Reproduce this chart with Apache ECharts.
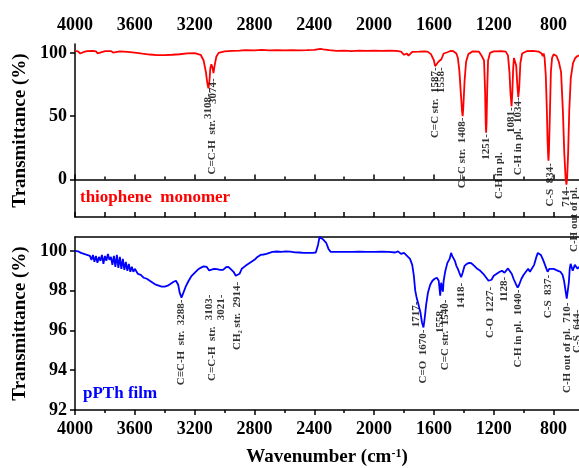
<!DOCTYPE html>
<html><head><meta charset="utf-8">
<script src="https://cdn.jsdelivr.net/npm/echarts@6/dist/echarts.min.js"></script>
<style>html,body{margin:0;padding:0;background:#fff}#c{width:579px;height:468px}</style>
</head><body><div id="c"></div>
<script>
// ---- thiophene monomer (top panel) ----
const monoWn = [4000,3980,3965,3955,3945,3920,3880,3860,3848,3838,3800,3760,3745,3735,3700,3650,3600,3550,3500,3450,3400,3350,3300,3250,3200,3160,3140,3125,3115,3108,3101,3095,3088,3080,3074,3068,3055,3040,3000,2950,2900,2860,2800,2750,2700,2650,2600,2550,2500,2450,2400,2360,2340,2300,2250,2200,2150,2100,2050,2000,1950,1900,1850,1820,1800,1790,1780,1770,1760,1745,1700,1660,1640,1620,1600,1592,1587,1580,1570,1558,1550,1535,1510,1490,1470,1450,1440,1430,1420,1412,1408,1404,1395,1385,1370,1340,1300,1290,1280,1272,1265,1258,1254,1251,1248,1244,1238,1225,1200,1150,1120,1105,1095,1088,1081,1076,1070,1065,1058,1050,1042,1036,1030,1022,1010,980,940,900,880,872,866,860,852,845,840,836,834,831,826,818,810,800,790,780,765,750,738,728,720,714,709,703,695,685,670,655,640,630];
const monoT  = [101.5,101.2,99.5,98.8,100.5,101.3,101.5,101.2,99.6,101.0,101.3,101.4,100.2,101.0,101.2,100.8,100.2,99.4,98.7,98.3,98.2,98.5,98.9,99.6,99.8,98.5,94,85,76,72,78,88,91,88,84,89,97,100,101.2,101.5,101.8,102.2,102.0,102.4,102.0,102.2,102.0,102.2,102.0,102.1,102.3,103.2,102.8,102.2,101.6,101.8,101.3,101.7,101.6,101.7,101.6,101.7,101.5,101.0,98.5,97.0,99.5,97.8,98.5,100.8,101.0,101.2,100.8,99,94,89.5,88.5,91,93,92.0,95,99.5,100.5,101.5,101.3,99.5,96,86,68,54,50,56,78,93,99,101.2,101.0,99.5,97.5,98.5,94,70,45,37,45,70,94,100,101.2,101.4,101.0,98,85,68,58,68,88,96,96,90,74,65,72,92,99.5,101.3,101.5,101.0,99.5,97.5,99.5,96,82,55,30,18,15,22,45,85,96,98.8,98.5,97.5,93,85,55,20,2,-4,2,20,55,80,92,96,97.5,98];
// ---- pPTh film (bottom panel) ----
const filmWn = [4000,3980,3960,3940,3920,3900,3890,3880,3870,3860,3850,3840,3830,3820,3810,3800,3790,3780,3770,3760,3750,3740,3730,3720,3710,3700,3690,3680,3670,3660,3650,3640,3630,3620,3610,3600,3580,3560,3540,3520,3500,3480,3460,3440,3420,3400,3380,3360,3340,3325,3310,3300,3288,3275,3260,3240,3220,3200,3180,3160,3140,3120,3110,3103,3090,3070,3050,3030,3021,3010,2990,2975,2960,2940,2925,2914,2900,2885,2860,2840,2820,2800,2780,2760,2740,2720,2700,2680,2650,2620,2590,2560,2530,2500,2470,2440,2410,2390,2375,2365,2355,2345,2335,2320,2305,2290,2250,2200,2150,2100,2050,2000,1950,1900,1860,1840,1820,1800,1780,1760,1745,1735,1725,1717,1710,1700,1690,1680,1670,1662,1652,1640,1625,1610,1595,1580,1568,1560,1558,1552,1546,1540,1535,1525,1510,1495,1485,1478,1470,1460,1450,1440,1430,1418,1408,1395,1380,1365,1350,1330,1310,1290,1270,1250,1235,1227,1215,1200,1180,1160,1145,1135,1128,1118,1105,1095,1080,1065,1050,1040,1030,1015,1000,985,970,958,945,930,915,905,895,885,870,860,850,840,837,828,815,800,785,770,755,740,730,720,712,705,698,692,686,680,672,665,658,650,640,630];
const filmT  = [100.0,99.98,99.9,99.85,99.8,99.75,99.55,99.8,99.45,99.75,99.4,99.7,99.5,99.8,99.35,99.75,99.5,99.85,99.55,99.7,99.3,99.75,99.2,99.8,99.15,99.7,99.1,99.6,99.05,99.45,99.0,99.35,98.95,99.2,98.95,99.1,98.85,98.8,98.65,98.6,98.5,98.4,98.3,98.25,98.2,98.2,98.25,98.35,98.45,98.5,98.3,97.9,97.65,97.9,98.2,98.5,98.75,98.9,99.05,99.15,99.22,99.2,99.1,99.02,99.05,99.1,99.08,99.05,98.98,99.05,99.18,99.2,99.1,98.95,98.75,98.7,98.85,99.1,99.25,99.35,99.45,99.55,99.7,99.8,99.82,99.85,99.9,99.95,99.97,99.95,99.98,99.96,99.93,99.92,99.9,99.9,99.9,99.92,100.3,100.7,100.75,100.6,100.7,100.4,100.1,99.95,99.95,99.95,99.95,99.96,99.95,99.95,99.96,99.95,99.92,99.98,99.85,99.9,99.75,99.6,99.3,98.8,98.0,97.7,97.75,97.2,96.9,96.4,96.15,96.6,97.3,97.9,98.3,98.5,98.6,98.65,98.5,97.9,97.75,98.4,98.2,97.95,98.5,98.95,99.4,99.6,99.9,99.75,99.85,99.5,99.25,99.1,98.9,98.68,98.9,99.25,99.35,99.4,99.38,99.25,99.1,99.0,98.85,98.65,98.5,98.45,98.55,98.75,98.85,98.95,99.0,98.95,98.9,99.0,99.12,99.05,98.85,98.55,98.3,98.15,98.3,98.6,98.8,98.95,99.1,98.95,98.95,99.3,99.7,99.9,99.95,99.8,99.55,99.35,99.15,98.95,98.95,99.1,99.2,99.1,99.05,99.0,98.95,98.8,98.5,98.0,97.6,97.7,98.4,99.1,99.35,99.2,99.0,98.95,99.3,99.3,99.1,99.2];
// ---- axis ticks ----
const xMajor = [4000,3600,3200,2800,2400,2000,1600,1200,800];
const xMinor = [3800,3400,3000,2600,2200,1800,1400,1000];
const monoYMajor = [0,50,100];
const monoYMinor = [-25,25,75];
const filmYMajor = [92,94,96,98,100];
const filmYMinor = [93,95,97,99];
// ---- peak annotations: [wavenumber, transmittance at label top, text] ----
const monoPeaks = [
  [3108,68,'3108-'],[3083,47,'C=C-H  str.'],[3074,80,'3074-'],
  [1592,88.5,'C=C str.  1587-'],[1552,88.5,'1558-'],
  [1408,49,'C=C str.  1408-'],[1251,36,'1251-'],[1161,21.5,'C-H in pl.'],
  [1081,57,'1081-'],[1034,65,'C-H in pl.  1034-'],
  [826,13,'C-S  834-'],[714,-5.5,'714-'],[662,-6,'C-H out of pl.']
];
const filmPeaks = [
  [3288,97.55,'C\u2261C-H  str.  3288-'],[3103,97.8,'3103-'],[3083,96.2,'C=C-H  str.'],
  [3021,97.8,'3021-'],[2914,98.45,'CH\u2082 str.  2914-'],
  [1717,97.45,'1717-'],[1670,96.05,'C=O  1670-'],[1558,97.3,'1558 -'],
  [1525,97.55,'C=C str.  1540-'],[1418,98.4,'1418-'],[1227,98.2,'C-O  1227-'],
  [1128,98.7,'1128-'],[1040,98.05,'C-H in pl.  1040-'],[837,98.8,'C-S  837-'],
  [710,97.4,'C-H out of pl.  710-'],[644,97.05,'C-S  644-']
];

const SERIF = '"Liberation Serif","Times New Roman",serif';
const X_MIN = 630, X_MAX = 4000;
const zip = (a,b) => a.map((v,i)=>[v,b[i]]);
const plain = v => String(v);

function xAx(grid, pos, opts){
  return Object.assign({type:'value', gridIndex:grid, position:pos, inverse:true, min:X_MIN, max:X_MAX,
    splitLine:{show:false}, axisLine:{show:false, lineStyle:{color:'#000', width:1.5}},
    axisTick:{show:false}, axisLabel:{show:false}}, opts);
}
function yAx(grid, min, max, opts){
  return Object.assign({type:'value', gridIndex:grid, min:min, max:max, splitLine:{show:false},
    axisLine:{show:false, lineStyle:{color:'#000', width:1.5}}, axisTick:{show:false}, axisLabel:{show:false}}, opts);
}
const tickLbl = {show:true, color:'#000', fontFamily:SERIF, fontWeight:'bold', fontSize:18, formatter:plain};
const yName = {name:'Transmittance (%)', nameLocation:'middle', nameGap:44,
  nameTextStyle:{color:'#000', fontFamily:SERIF, fontWeight:'bold', fontSize:19}};

function annot(xi, yi, peaks){
  return {type:'scatter', xAxisIndex:xi, yAxisIndex:yi, symbolSize:1, silent:true, z:5,
    itemStyle:{color:'rgba(0,0,0,0)'},
    data: peaks.map(p=>({value:[p[0],p[1]], label:{formatter:p[2]}})),
    label:{show:true, position:'inside', rotate:90, align:'right', verticalAlign:'middle',
      color:'#000', fontFamily:SERIF, fontWeight:'bold', fontSize:11}};
}

const option = {
  animation:false,
  grid:[{left:75, top:44, width:504, height:173},{left:75, top:237, width:504, height:174}],
  xAxis:[
    xAx(0,'top',{axisLine:{show:true,lineStyle:{color:'#000',width:1.5}},
      axisTick:{show:true, length:5, customValues:xMajor, lineStyle:{color:'#000',width:1.5}},
      axisLabel:Object.assign({customValues:xMajor, margin:10}, tickLbl)}),
    xAx(0,'top',{axisTick:{show:true, length:3, customValues:xMinor, lineStyle:{color:'#000',width:1.5}}}),
    xAx(0,'bottom',{axisLine:{show:true,lineStyle:{color:'#000',width:1.5}},
      axisTick:{show:true, inside:true, length:5, customValues:xMajor.concat(xMinor), lineStyle:{color:'#000',width:1.5}}}),
    xAx(1,'bottom',{axisLine:{show:true,lineStyle:{color:'#000',width:1.5}},
      axisTick:{show:true, length:5, customValues:xMajor, lineStyle:{color:'#000',width:1.5}},
      axisLabel:Object.assign({customValues:xMajor, margin:10}, tickLbl),
      name:'Wavenumber (cm{sup|-1})', nameLocation:'middle', nameGap:38,
      nameTextStyle:{color:'#000', fontFamily:SERIF, fontWeight:'bold', fontSize:19,
        rich:{sup:{fontFamily:SERIF, fontWeight:'bold', fontSize:12, verticalAlign:'top', color:'#000'}}}}),
    xAx(1,'bottom',{axisTick:{show:true, length:3, customValues:xMinor, lineStyle:{color:'#000',width:1.5}}}),
    xAx(1,'top',{axisLine:{show:true,lineStyle:{color:'#000',width:1.5}}})
  ],
  yAxis:[
    yAx(0,-29.5,107,Object.assign({axisLine:{show:true,lineStyle:{color:'#000',width:1.5}},
      axisTick:{show:true, length:5, customValues:monoYMajor, lineStyle:{color:'#000',width:1.5}},
      axisLabel:Object.assign({customValues:monoYMajor, margin:8}, tickLbl)}, yName)),
    yAx(0,-29.5,107,{axisTick:{show:true, length:3, customValues:monoYMinor, lineStyle:{color:'#000',width:1.5}}}),
    yAx(1,92,100.7,Object.assign({axisLine:{show:true,lineStyle:{color:'#000',width:1.5}},
      axisTick:{show:true, length:5, customValues:filmYMajor, lineStyle:{color:'#000',width:1.5}},
      axisLabel:Object.assign({customValues:filmYMajor, margin:8}, tickLbl)}, yName)),
    yAx(1,92,100.7,{axisTick:{show:true, length:3, customValues:filmYMinor, lineStyle:{color:'#000',width:1.5}}})
  ],
  graphic:[
    {type:'text', left:80, top:189, style:{text:'thiophene  monomer', fill:'#ff0000', font:'bold 17px '+SERIF}},
    {type:'text', left:83, top:385, style:{text:'pPTh film', fill:'#0000ff', font:'bold 17px '+SERIF}}
  ],
  series:[
    {type:'line', xAxisIndex:0, yAxisIndex:0, data:zip(monoWn,monoT), showSymbol:false, symbol:'none',
      lineStyle:{color:'#ff0000', width:1.8}, clip:true},
    {type:'line', xAxisIndex:3, yAxisIndex:2, data:zip(filmWn,filmT), showSymbol:false, symbol:'none',
      lineStyle:{color:'#0000ff', width:1.8}, clip:true},
    annot(0,0,monoPeaks),
    annot(3,2,filmPeaks)
  ]
};
echarts.init(document.getElementById('c'), null, {renderer:'canvas'}).setOption(option);
</script></body></html>
